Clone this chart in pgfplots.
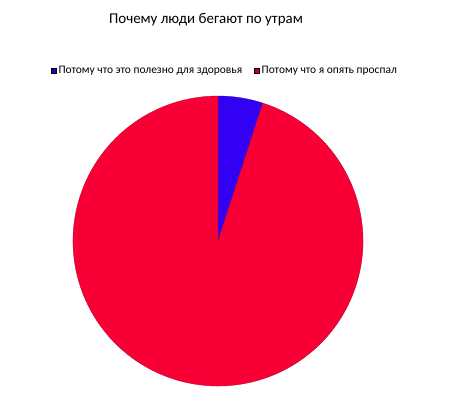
\documentclass[border=0pt]{standalone}
\usepackage{fontspec}
\setmainfont{Carlito}
\usepackage{pgfplots}
\usepackage{pgfplotstable}
\pgfplotsset{compat=1.18}

\definecolor{healthblue}{HTML}{3200F2}
\definecolor{overslept}{HTML}{F80036}

% shares of the two answers
\pgfplotstableread{
share
5
95
}\piedata
\pgfplotstablegetelem{0}{share}\of\piedata \let\shareA\pgfplotsretval
\pgfplotstablegetelem{1}{share}\of\piedata \let\shareB\pgfplotsretval
\pgfmathsetmacro\angA{90-360*\shareA/(\shareA+\shareB)}

\begin{document}
\begin{tikzpicture}
\begin{axis}[
    at={(0,0)}, anchor=south west,
    width=454bp, height=404bp, scale only axis,
    xmin=0, xmax=454, ymin=0, ymax=404,
    hide axis, clip=false,
    legend columns=2,
    legend image code/.code={\fill[#1] (0bp,-2.4bp) rectangle (5bp,2.6bp);},
    legend style={at={(axis cs:225,333)}, anchor=center, draw=none, fill=none,
        font=\fontsize{11.5}{13}\selectfont,
        /tikz/every even column/.append style={column sep=10bp}},
]
\addlegendimage{fill=healthblue!75!black}
\addlegendentry{Потому что это полезно для здоровья}
\addlegendimage{fill=overslept!75!black}
\addlegendentry{Потому что я опять проспал}

\node[font=\fontsize{15}{18}\selectfont] at (axis cs:206,384) {Почему люди бегают по утрам};

\filldraw[fill=healthblue, draw=healthblue!70!black, line width=0.3bp]
    (axis cs:218,163) -- (axis cs:218,308)
    arc[start angle=90, end angle=\angA, radius=145bp] -- cycle;
\filldraw[fill=overslept, draw=overslept!70!black, line width=0.3bp]
    (axis cs:218,163) -- ++(\angA:145bp)
    arc[start angle=\angA, end angle=-270, radius=145bp] -- cycle;
\end{axis}
\pgfresetboundingbox
\useasboundingbox (0,0) rectangle (454bp,404bp);
\end{tikzpicture}
\end{document}
